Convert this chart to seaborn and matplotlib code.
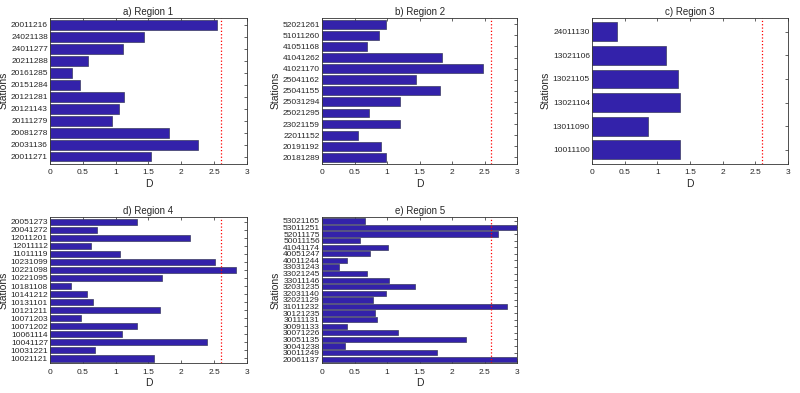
import matplotlib
matplotlib.use('Agg')
import matplotlib.pyplot as plt
import seaborn as sns
from matplotlib import font_manager

# station ids listed top to bottom, with D values
region1_stations = ['20011216', '24021138', '24011277', '20211288', '20161285', '20151284',
                    '20121281', '20121143', '20111279', '20081278', '20031136', '20011271']
region1_d = [2.54, 1.44, 1.11, 0.58, 0.34, 0.45, 1.13, 1.05, 0.95, 1.81, 2.25, 1.54]

region2_stations = ['52021261', '51011260', '41051168', '41041262', '41021170', '25041162',
                    '25041155', '25031294', '25021295', '23021159', '22011152', '20191192',
                    '20181289']
region2_d = [0.98, 0.87, 0.69, 1.85, 2.47, 1.44, 1.81, 1.20, 0.73, 1.20, 0.55, 0.90, 0.98]

region3_stations = ['24011130', '13021106', '13021105', '13021104', '13011090', '10011100']
region3_d = [0.38, 1.14, 1.32, 1.34, 0.86, 1.35]

region4_stations = ['20051273', '20041272', '12011201', '12011112', '11011119', '10231099',
                    '10221098', '10221095', '10181108', '10141212', '10131101', '10121211',
                    '10071203', '10071202', '10061114', '10041127', '10031221', '10021121']
region4_d = [1.32, 0.71, 2.14, 0.62, 1.07, 2.52, 2.84, 1.71, 0.32, 0.57, 0.65, 1.67,
             0.47, 1.32, 1.10, 2.39, 0.69, 1.59]

region5_stations = ['53021165', '53011251', '52011175', '50011156', '41041174', '40051247',
                    '40011244', '33031243', '33021245', '33011146', '32031235', '32031140',
                    '32021129', '31011232', '30121235', '30111131', '30091133', '30071226',
                    '30051135', '30041238', '30011249', '20061137']
region5_d = [0.66, 3.10, 2.71, 0.59, 1.01, 0.74, 0.38, 0.26, 0.69, 1.03, 1.43, 0.99,
             0.78, 2.84, 0.82, 0.85, 0.38, 1.17, 2.22, 0.35, 1.76, 3.20]

threshold = 2.6
x_ticks = [0, 0.5, 1, 1.5, 2, 2.5, 3]

sns.set_style('ticks')
names = {f.name for f in font_manager.fontManager.ttflist}
family = ['Liberation Sans Narrow', 'DejaVu Sans'] if 'Liberation Sans Narrow' in names \
    else ['Liberation Sans', 'DejaVu Sans']
plt.rcParams['font.family'] = family
label_size = 6.5 if 'Liberation Sans Narrow' in names else 6.0


def plot_region(ax, stations, values, title):
    sns.barplot(x=values, y=stations, orient='h', ax=ax, order=stations,
                color='#3322aa', saturation=1, width=0.8,
                edgecolor='#3a3a60', linewidth=0.5)
    ax.axvline(threshold, color='red', linestyle=':', linewidth=0.9)
    ax.set_xlim(0, 3)
    ax.set_ylim(len(stations) - 0.4, -0.6)
    ax.set_xticks(x_ticks)
    ax.set_xticklabels(['0', '0.5', '1', '1.5', '2', '2.5', '3'])
    ax.tick_params(direction='in', top=True, right=True, labelsize=label_size,
                   length=2.5, width=0.5, pad=1.5)
    ax.tick_params(axis='x', pad=4)
    for s in ax.spines.values():
        s.set_visible(True)
        s.set_linewidth(0.6)
        s.set_color('#333333')
    ax.set_title(title, fontsize=7, pad=2)
    ax.set_xlabel('D', fontsize=7.5, labelpad=2)
    ax.set_ylabel('Stations', fontsize=7.5)
    ax.yaxis.set_label_coords(-0.21, 0.5)


fig = plt.figure(figsize=(8, 3.93), dpi=100)
ax_a = fig.add_axes([0.0625, 0.583, 0.246, 0.372])
ax_b = fig.add_axes([0.4025, 0.583, 0.244, 0.372])
ax_c = fig.add_axes([0.74, 0.583, 0.245, 0.372])
ax_d = fig.add_axes([0.0625, 0.076, 0.246, 0.372])
ax_e = fig.add_axes([0.4025, 0.076, 0.244, 0.372])

plot_region(ax_a, region1_stations, region1_d, 'a) Region 1')
plot_region(ax_b, region2_stations, region2_d, 'b) Region 2')
plot_region(ax_c, region3_stations, region3_d, 'c) Region 3')
plot_region(ax_d, region4_stations, region4_d, 'd) Region 4')
plot_region(ax_e, region5_stations, region5_d, 'e) Region 5')

fig.savefig('out.png', dpi=100, facecolor='white')
